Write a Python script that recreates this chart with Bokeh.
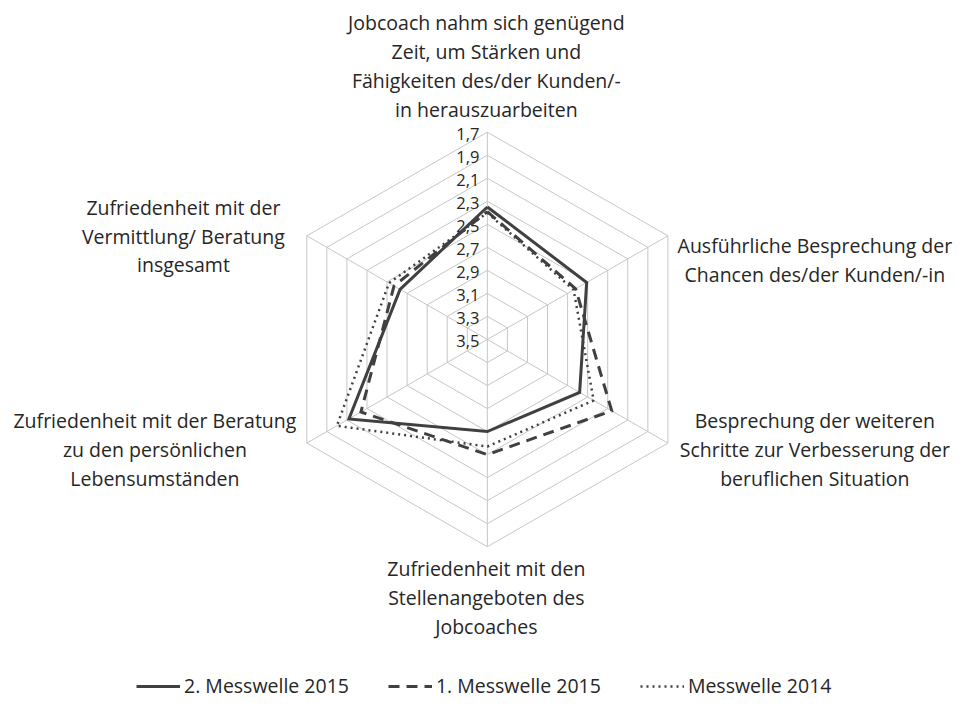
import numpy as np
from bokeh.plotting import figure
from bokeh.models import Range1d, Legend, LegendItem
from bokeh.core.properties import value
from bokeh.embed import file_html
from bokeh.resources import INLINE

categories = [
    "Jobcoach nahm sich genügend\nZeit, um Stärken und\nFähigkeiten des/der Kunden/-\nin herauszuarbeiten",
    "Ausführliche Besprechung der\nChancen des/der Kunden/-in",
    "Besprechung der weiteren\nSchritte zur Verbesserung der\nberuflichen Situation",
    "Zufriedenheit mit den\nStellenangeboten des\nJobcoaches",
    "Zufriedenheit mit der Beratung\nzu den persönlichen\nLebensumständen",
    "Zufriedenheit mit der\nVermittlung/ Beratung\ninsgesamt",
]
series_names = ["2. Messwelle 2015", "1. Messwelle 2015", "Messwelle 2014"]
welle2_2015 = [2.35, 2.51, 2.58, 2.70, 2.12, 2.63]
welle1_2015 = [2.39, 2.62, 2.26, 2.50, 2.24, 2.57]
welle_2014 = [2.40, 2.64, 2.44, 2.57, 2.00, 2.52]
tick_values = [1.7, 1.9, 2.1, 2.3, 2.5, 2.7, 2.9, 3.1, 3.3, 3.5]
tick_labels = ["1,7", "1,9", "2,1", "2,3", "2,5", "2,7", "2,9", "3,1", "3,3", "3,5"]

# layout: data units = reference pixels, origin at the radar centre
REF_W, REF_H = 971, 715
R = 212.0
V_OUT, V_IN = 1.7, 3.5
FONT_NAME = "Open Sans"
FONT = value(FONT_NAME)
TXT = "#262626"
LINE = "#404040"
GRID = "#c6c6c6"

n = len(categories)
ang = np.deg2rad(90 - 60 * np.arange(n))


def radius(v):
    return (V_IN - np.asarray(v, dtype=float)) / (V_IN - V_OUT) * R


def xy(vals):
    r = radius(vals)
    x = list(r * np.cos(ang)) + [r[0] * np.cos(ang[0])]
    y = list(r * np.sin(ang)) + [r[0] * np.sin(ang[0])]
    return x, y


cx, cy = 495.0, 346.7
W, H = 955, 699
p = figure(width=W, height=H, output_backend="svg", toolbar_location=None,
           x_range=Range1d(-cx, REF_W - cx), y_range=Range1d(cy - REF_H, cy),
           min_border=0)
p.axis.visible = False
p.grid.visible = False
p.outline_line_color = None
p.background_fill_color = "white"

# grid rings
for tv in tick_values[:-1]:
    gx, gy = xy([tv] * n)
    p.line(gx, gy, line_color=GRID, line_width=1)
# spokes
for a in ang:
    p.line([0, R * np.cos(a)], [0, R * np.sin(a)], line_color=GRID, line_width=1)

# tick labels on vertical axis
p.text(x=[-8] * len(tick_values), y=list(radius(tick_values) - 1.5), text=tick_labels,
       text_font=FONT, text_font_size="16.5px", text_align="right",
       text_baseline="middle", text_color=TXT)

# series
r1 = p.line(*xy(welle2_2015), line_color=LINE, line_width=3, line_join="miter")
r2 = p.line(*xy(welle1_2015), line_color=LINE, line_width=3, line_dash="11 7", line_join="miter")
r3 = p.line(*xy(welle_2014), line_color=LINE, line_width=2.5, line_dash="2 4")

# category labels
anchors = [(494, 67), (828, 265.5), (828, 459), (494, 611), (157, 459), (186, 241)]
lh = 29.5
lx, ly, lt = [], [], []
for lab, (ax_, ay_) in zip(categories, anchors):
    lines = lab.split("\n")
    k = len(lines)
    for i, s in enumerate(lines):
        py = ay_ + (i - (k - 1) / 2) * lh
        lx.append(ax_ - cx)
        ly.append(cy - py)
        lt.append(s)
p.text(x=lx, y=ly, text=lt, text_font=FONT, text_font_size="19.5px",
       text_align="center", text_baseline="middle", text_color=TXT)

legend = Legend(items=[LegendItem(label=series_names[0], renderers=[r1]),
                       LegendItem(label=series_names[1], renderers=[r2]),
                       LegendItem(label=series_names[2], renderers=[r3])],
                orientation="horizontal", location=(136, 0),
                glyph_width=44, glyph_height=20, spacing=39, padding=0, margin=0,
                label_standoff=4, label_text_font=FONT_NAME, label_text_font_size="19.5px",
                label_text_color=TXT, border_line_alpha=0, background_fill_alpha=0)
p.add_layout(legend, "center")

open("out.html", "w").write(file_html(p, INLINE))
